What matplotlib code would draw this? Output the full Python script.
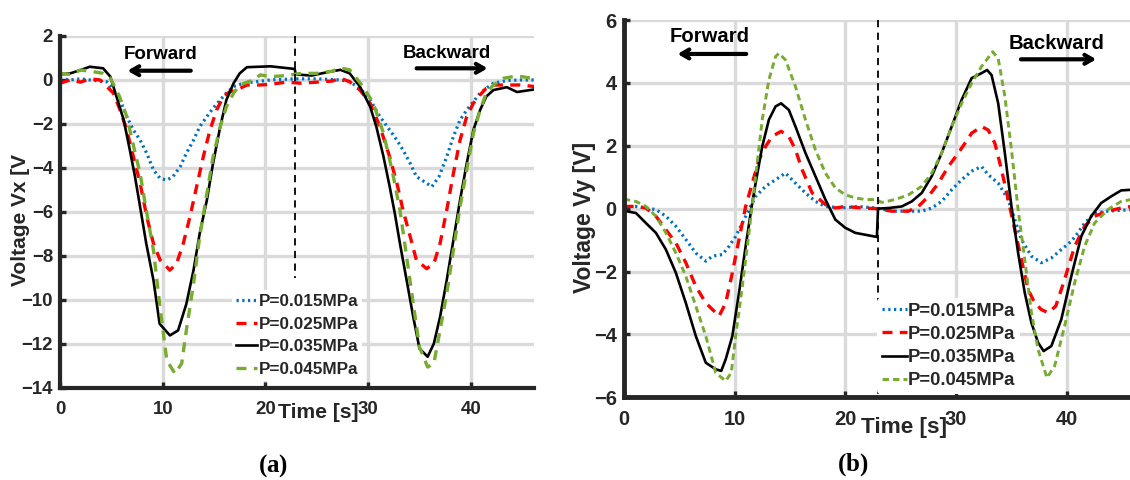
import matplotlib
matplotlib.use("Agg")
import matplotlib.pyplot as plt

plt.rcParams['font.family'] = ['Liberation Sans', 'DejaVu Sans']
plt.rcParams['font.weight'] = 'bold'
plt.rcParams['mathtext.fontset'] = 'custom'
plt.rcParams['mathtext.rm'] = 'Liberation Serif'
plt.rcParams['mathtext.bf'] = 'Liberation Serif:bold'

# ---------------- data: panel (a) Vx ----------------
labels = ['P=0.015MPa', 'P=0.025MPa', 'P=0.035MPa', 'P=0.045MPa']
xticks = [0, 10, 20, 30, 40]
yticks_a = [-14, -12, -10, -8, -6, -4, -2, 0, 2]
yticks_b = [-6, -4, -2, 0, 2, 4, 6]

ta_015 = [0, 1, 2, 2.9, 4.55, 5.2, 5.85, 6.5, 7.15, 7.8, 8.45, 9.1, 9.75, 10.4, 11.0, 11.7, 12.3, 13.0, 13.6, 14.3,
          14.9, 15.6, 16.2, 16.9, 17.85, 19.1, 20.5, 23, 25, 27.3, 28.2, 29.2, 30.2, 31.15, 32.1, 32.8, 33.4, 34.1,
          34.7, 35.5, 36.2, 36.9, 37.65, 38.3, 38.95, 39.6, 40.25, 40.9, 41.5, 42.2, 43.5, 44.8, 46.2]
va_015 = [0.05, 0.0, 0.05, 0.0, -0.08, -0.46, -0.91, -1.67, -2.28, -2.74, -3.34, -4.1, -4.48, -4.56, -4.4, -3.95, -3.34,
          -2.74, -2.13, -1.67, -1.29, -0.91, -0.6, -0.3, -0.15, -0.08, 0.0, 0.05, 0.05, 0.0, -0.08, -0.38, -0.91, -1.67,
          -2.28, -2.74, -3.19, -3.8, -4.4, -4.64, -4.86, -4.4, -3.5, -2.58, -1.82, -1.37, -0.99, -0.6, -0.38, -0.15,
          -0.03, 0.0, 0.0]

ta_025 = [0, 1, 2, 2.9, 3.9, 4.55, 5.2, 5.85, 6.5, 7.15, 7.8, 8.45, 9.1, 9.75, 10.7, 11.35, 12.0, 12.65, 13.3, 13.95,
          14.6, 15.25, 15.9, 16.55, 17.2, 18.2, 19.5, 20.5, 22, 23.5, 25, 26.5, 27.3, 28.2, 29.2, 30.2, 31.15, 32.1,
          32.8, 33.4, 34.1, 34.7, 35.7, 36.4, 37.0, 37.65, 38.3, 38.95, 39.6, 40.25, 40.9, 41.5, 42.2, 43.5, 44.8, 46.2]
va_025 = [-0.15, 0.0, -0.1, 0.05, 0.0, -0.3, -0.6, -1.37, -2.28, -3.5, -4.7, -6.23, -7.45, -8.2, -8.66, -8.36, -7.45,
          -6.23, -4.86, -3.5, -2.28, -1.37, -0.76, -0.53, -0.46, -0.23, -0.23, -0.2, -0.1, -0.15, -0.1, -0.05, 0.08,
          -0.08, -0.46, -1.06, -2.13, -3.5, -4.7, -5.93, -7.14, -8.2, -8.59, -8.36, -7.45, -5.93, -4.26, -2.74, -1.67,
          -1.06, -0.68, -0.38, -0.23, -0.23, -0.23, -0.3]

ta_035 = [0, 1, 2, 2.9, 4.2, 4.9, 5.5, 6.2, 6.8, 7.3, 7.8, 8.4, 9.1, 9.7, 10.7, 11.5, 12.3, 13.0, 13.6, 14.3, 14.9,
          15.6, 16.2, 16.9, 17.5, 18.2, 20.5, 22.85, 22.95, 24.5, 26.0, 27.3, 28.2, 29.2, 30.2, 30.8, 31.5, 32.1, 32.6,
          33.1, 33.75, 34.4, 35.0, 35.8, 36.4, 37.0, 37.65, 38.3, 38.95, 39.6, 40.25, 40.9, 41.5, 42.2, 43.5, 44.5, 46.2]
va_035 = [0.25, 0.3, 0.45, 0.6, 0.53, 0.15, -0.76, -1.82, -3.19, -4.4, -5.78, -7.45, -9.12, -11.1, -11.63, -11.4,
          -10.2, -8.66, -6.99, -5.47, -3.8, -2.13, -0.91, -0.15, 0.3, 0.58, 0.62, 0.5, 0.25, 0.2, 0.35, 0.46, 0.3,
          -0.3, -1.22, -2.13, -3.5, -4.86, -6.08, -7.45, -9.12, -10.8, -12.23, -12.6, -12.0, -10.8, -9.12, -7.3, -5.47,
          -3.8, -2.28, -1.37, -0.76, -0.46, -0.33, -0.55, -0.43]

ta_045 = [0, 1, 2, 2.9, 4.2, 4.9, 5.8, 6.5, 7.1, 7.8, 8.4, 9.1, 9.7, 10.4, 11.2, 11.85, 12.3, 13.0, 13.6, 14.3, 14.9,
          15.6, 16.2, 16.9, 17.5, 18.8, 19.5, 20.5, 22, 23.5, 25, 26.5, 27.3, 28.2, 29.5, 30.5, 31.5, 32.4, 33.1,
          33.75, 34.4, 35.0, 35.8, 36.4, 37.0, 37.65, 38.3, 38.95, 39.6, 40.25, 40.9, 41.5, 42.2, 43.2, 44.1, 45, 46.2]
va_045 = [0.3, 0.25, 0.45, 0.4, 0.3, 0.08, -0.76, -1.67, -2.89, -4.26, -5.93, -7.75, -10.2, -12.77, -13.37, -12.9,
          -11.4, -9.27, -7.14, -5.17, -3.5, -2.13, -1.22, -0.6, -0.23, 0.0, 0.23, 0.15, 0.2, 0.3, 0.3, 0.4, 0.55,
          0.46, -0.3, -1.06, -2.43, -4.26, -5.93, -8.05, -10.2, -12.16, -13.07, -12.9, -11.4, -9.73, -7.75, -5.78,
          -4.1, -2.43, -1.37, -0.6, -0.23, 0.08, 0.15, 0.15, 0.05]

# ---------------- data: panel (b) Vy ----------------
tb_015 = [0, 0.2, 1.1, 2.0, 2.9, 3.8, 4.7, 5.6, 6.5, 7.4, 8.0, 8.9, 9.5, 10.1, 10.7, 11.3, 11.9, 12.8, 13.7, 14.6,
          15.5, 16.4, 17.3, 18.2, 19.7, 21.2, 22.7, 24.5, 26.9, 27.8, 28.7, 29.6, 30.5, 31.4, 32.3, 32.9, 33.8, 34.7,
          35.3, 35.9, 36.8, 37.7, 38.6, 39.5, 40.4, 41.0, 41.6, 42.5, 43.7, 45.8]
vb_015 = [0.1, 0.07, 0.07, 0.02, -0.03, -0.24, -0.56, -0.98, -1.41, -1.67, -1.51, -1.46, -1.2, -0.88, -0.46, -0.03,
          0.39, 0.71, 0.92, 1.13, 0.81, 0.5, 0.23, 0.07, 0.02, 0.07, 0.02, -0.08, -0.08, 0.02, 0.23, 0.6, 0.92, 1.19,
          1.34, 1.08, 0.81, 0.29, -0.35, -0.98, -1.51, -1.72, -1.57, -1.3, -1.04, -0.77, -0.46, -0.14, -0.08, -0.03]

tb_025 = [0, 0.2, 1.1, 2.0, 2.9, 3.8, 4.7, 5.6, 6.5, 7.4, 8.3, 8.6, 9.2, 9.8, 10.4, 11.0, 11.6, 12.2, 12.8, 13.4,
          14.2, 14.9, 15.5, 16.1, 17.0, 18.2, 19.1, 20.0, 21.5, 22.9, 24.2, 25.7, 26.6, 27.5, 28.4, 29.3, 30.2, 30.8,
          31.4, 32.3, 32.9, 33.5, 34.1, 34.7, 35.3, 35.9, 36.5, 37.1, 37.7, 38.3, 39.0, 39.8, 40.7, 41.6, 42.5, 43.7,
          44.9, 45.8]
vb_025 = [0.1, 0.07, 0.07, 0.02, -0.24, -0.67, -1.09, -1.72, -2.47, -3.0, -3.31, -3.42, -3.0, -2.04, -0.98, 0.07,
          0.81, 1.56, 1.98, 2.3, 2.46, 2.3, 1.87, 1.24, 0.5, 0.13, 0.02, 0.07, 0.02, 0.0, -0.08, -0.08, 0.07, 0.39,
          0.81, 1.34, 1.77, 2.08, 2.4, 2.61, 2.5, 2.08, 1.24, 0.29, -0.67, -1.62, -2.57, -3.0, -3.21, -3.31, -3.1,
          -2.25, -1.2, -0.56, -0.24, -0.08, 0.02, 0.07]

tb_035 = [0, 0.2, 1.1, 2.0, 2.9, 3.8, 4.7, 5.6, 6.5, 7.4, 8.3, 8.8, 9.2, 9.8, 10.4, 11.0, 11.5, 11.9, 12.5, 13.1,
          13.7, 14.2, 14.9, 15.5, 16.4, 17.3, 18.2, 19.1, 20.0, 20.9, 21.8, 22.85, 22.95, 23.9, 25.1, 26.0, 26.9,
          27.8, 28.7, 29.6, 30.5, 31.4, 32.3, 32.8, 33.2, 33.8, 34.4, 35.0, 35.6, 36.2, 36.8, 37.4, 37.9, 38.6, 39.5,
          40.4, 41.3, 42.2, 43.1, 44.0, 44.9, 45.8]
vb_035 = [-0.05, -0.08, -0.14, -0.46, -0.77, -1.3, -2.04, -3.0, -4.05, -4.9, -5.11, -5.16, -4.79, -4.05, -2.68, -1.2,
          -0.03, 0.81, 1.98, 2.83, 3.25, 3.35, 3.14, 2.61, 1.77, 1.03, 0.29, -0.35, -0.61, -0.77, -0.83, -0.9, 0.0,
          0.02, 0.07, 0.23, 0.5, 1.03, 1.77, 2.61, 3.46, 4.15, 4.31, 4.41, 4.25, 3.35, 1.77, 0.07, -1.41, -2.68,
          -3.63, -4.26, -4.53, -4.37, -3.52, -2.15, -0.88, -0.24, 0.18, 0.39, 0.58, 0.6]

tb_045 = [0, 0.2, 1.1, 2.0, 2.9, 3.8, 4.7, 5.6, 6.5, 7.4, 8.3, 9.2, 9.7, 10.1, 10.7, 11.3, 11.9, 12.5, 13.1, 13.7,
          14.0, 14.6, 15.5, 16.4, 17.3, 18.2, 19.1, 20.0, 20.9, 21.8, 22.7, 23.3, 24.5, 25.7, 26.9, 27.8, 28.7, 29.6,
          30.5, 31.4, 32.3, 33.3, 33.8, 34.4, 35.0, 35.6, 36.2, 36.8, 37.4, 38.2, 38.9, 39.8, 40.7, 41.6, 42.5, 43.7,
          44.9, 45.8]
vb_045 = [0.3, 0.29, 0.23, 0.07, -0.24, -0.77, -1.41, -2.15, -3.1, -4.05, -5.22, -5.48, -5.22, -4.05, -2.47, -0.77,
          1.03, 2.83, 4.1, 4.84, 4.94, 4.73, 3.88, 2.83, 1.87, 1.13, 0.66, 0.44, 0.34, 0.29, 0.29, 0.2, 0.29, 0.44,
          0.71, 1.13, 1.77, 2.61, 3.35, 3.99, 4.52, 4.99, 4.78, 3.57, 1.87, -0.03, -1.62, -3.31, -4.48, -5.38, -5.0,
          -3.73, -2.36, -1.2, -0.46, -0.03, 0.23, 0.29]

for a, b in [(ta_015, va_015), (ta_025, va_025), (ta_035, va_035), (ta_045, va_045),
             (tb_015, vb_015), (tb_025, vb_025), (tb_035, vb_035), (tb_045, vb_045)]:
    assert len(a) == len(b), (len(a), len(b))

# ---------------- styles ----------------
C_BLUE, C_RED, C_BLACK, C_GREEN = '#0072BD', '#FF0000', '#000000', '#77AC30'
GRID = '#DADADA'
SPINE = '#262626'

W, H = 1130, 480
fig = plt.figure(figsize=(W / 100, H / 100), dpi=100)


def px_axes(l, t, r, b):
    return fig.add_axes([l / W, 1 - b / H, (r - l) / W, (b - t) / H])


def style_axes(ax, fs_tick, spw, xpad):
    for s in ['top', 'right']:
        ax.spines[s].set_visible(False)
    for s in ['left', 'bottom']:
        ax.spines[s].set_linewidth(spw)
        ax.spines[s].set_color(SPINE)
        ax.spines[s].set_zorder(5)
    ax.tick_params(direction='in', length=4, width=2.4, color=SPINE, labelsize=fs_tick,
                   labelcolor=SPINE)
    ax.tick_params(axis='y', pad=5)
    ax.tick_params(axis='x', pad=xpad)
    ax.grid(True, color=GRID, linewidth=2.4, zorder=0)
    ax.set_axisbelow(True)
    for lab in ax.get_xticklabels() + ax.get_yticklabels():
        lab.set_fontweight('bold')


ARROW = dict(arrowstyle='->,head_length=0.55,head_width=0.32', lw=3, color='black')

# ================= panel (a) =================
axa = px_axes(60, 36, 534, 387.5)
axa.plot(ta_015, va_015, color=C_BLUE, lw=2.3, linestyle=(0, (0.7, 1.1)), label=labels[0])
axa.plot(ta_025, va_025, color=C_RED, lw=2.4, linestyle=(0, (3.0, 2.2)), label=labels[1])
axa.plot(ta_035, va_035, color=C_BLACK, lw=1.9, linestyle='-', label=labels[2])
axa.plot(ta_045, va_045, color=C_GREEN, lw=2.4, linestyle=(0, (3.0, 2.2)), label=labels[3])
axa.plot([22.9, 22.9], [2, -9.0], color='black', lw=1.3, linestyle=(0, (4, 3)))
axa.set_xlim(0, 46.15)
axa.set_ylim(-14, 2)
axa.set_xticks(xticks)
axa.set_yticks(yticks_a)
style_axes(axa, 13.4, 3.0, 9.5)

axa.text(9.77, 1.14, 'Forward', ha='center', va='center', fontsize=13.5, fontweight='bold', color='black')
axa.annotate('', xy=(6.3, 0.42), xytext=(13.0, 0.42), arrowprops=ARROW)
axa.text(37.65, 1.22, 'Backward', ha='center', va='center', fontsize=13.5, fontweight='bold', color='black')
axa.annotate('', xy=(41.9, 0.53), xytext=(34.45, 0.53), arrowprops=ARROW)

lega = axa.legend(loc='upper left', bbox_to_anchor=(232 / W, 1 - 290 / H), bbox_transform=fig.transFigure,
                  fontsize=12.3, frameon=True, facecolor='white', edgecolor='none', framealpha=1,
                  handlelength=1.2, handletextpad=0.1, labelspacing=0.44, borderpad=0.25, borderaxespad=0)
for t in lega.get_texts():
    t.set_fontweight('bold')
    t.set_color(SPINE)
lega.set_zorder(4)

fig.text(20.5 / W, 1 - 220 / H, 'Voltage Vx [V', rotation=90, ha='center', va='center',
         fontsize=15, fontweight='bold', color=SPINE)
fig.text(318.5 / W, 1 - 413 / H, 'Time [s]', ha='center', va='center', fontsize=15.2,
         fontweight='bold', color=SPINE)

# ================= panel (b) =================
axb = px_axes(623.8, 20, 1130, 397.3)
axb.plot(tb_015, vb_015, color=C_BLUE, lw=2.3, linestyle=(0, (0.7, 1.1)), label=labels[0])
axb.plot(tb_025, vb_025, color=C_RED, lw=2.4, linestyle=(0, (3.0, 2.2)), label=labels[1])
axb.plot(tb_035, vb_035, color=C_BLACK, lw=1.9, linestyle='-', label=labels[2])
axb.plot(tb_045, vb_045, color=C_GREEN, lw=2.1, linestyle=(0, (2.2, 1.4)), label=labels[3])
axb.plot([22.95, 22.95], [6, -6], color='black', lw=1.3, linestyle=(0, (4, 3)))
axb.set_xlim(0, 45.7)
axb.set_ylim(-6, 6)
axb.set_xticks(xticks)
axb.set_yticks(yticks_b)
style_axes(axb, 14.5, 3.5, 9.5)

axb.text(7.72, 5.47, 'Forward', ha='center', va='center', fontsize=14.6, fontweight='bold', color='black')
axb.annotate('', xy=(4.6, 4.92), xytext=(11.3, 4.92), arrowprops=ARROW)
axb.text(39.08, 5.26, 'Backward', ha='center', va='center', fontsize=14.6, fontweight='bold', color='black')
axb.annotate('', xy=(42.9, 4.75), xytext=(35.6, 4.75), arrowprops=ARROW)

legb = axb.legend(loc='upper left', bbox_to_anchor=(877 / W, 1 - 298 / H), bbox_transform=fig.transFigure,
                  fontsize=13.3, frameon=True, facecolor='white', edgecolor='none', framealpha=1,
                  handlelength=1.35, handletextpad=0.08, labelspacing=0.34, borderpad=0.25, borderaxespad=0)
for t in legb.get_texts():
    t.set_fontweight('bold')
    t.set_color(SPINE)
legb.set_zorder(4)

fig.text(584 / W, 1 - 217 / H, 'Voltage Vy [V]', rotation=90, ha='center', va='center',
         fontsize=16.5, fontweight='bold', color=SPINE)
fig.text(904 / W, 1 - 428 / H, 'Time [s]', ha='center', va='center', fontsize=16.2,
         fontweight='bold', color=SPINE)

# captions
fig.text(273 / W, 1 - 466 / H, r'$\mathrm{(}\mathbf{a}\mathrm{)}$', ha='center', va='center', fontsize=18,
         color='black')
fig.text(853 / W, 1 - 465 / H, r'$\mathrm{(}\mathbf{b}\mathrm{)}$', ha='center', va='center', fontsize=18,
         color='black')

fig.savefig('out.png', dpi=100)
